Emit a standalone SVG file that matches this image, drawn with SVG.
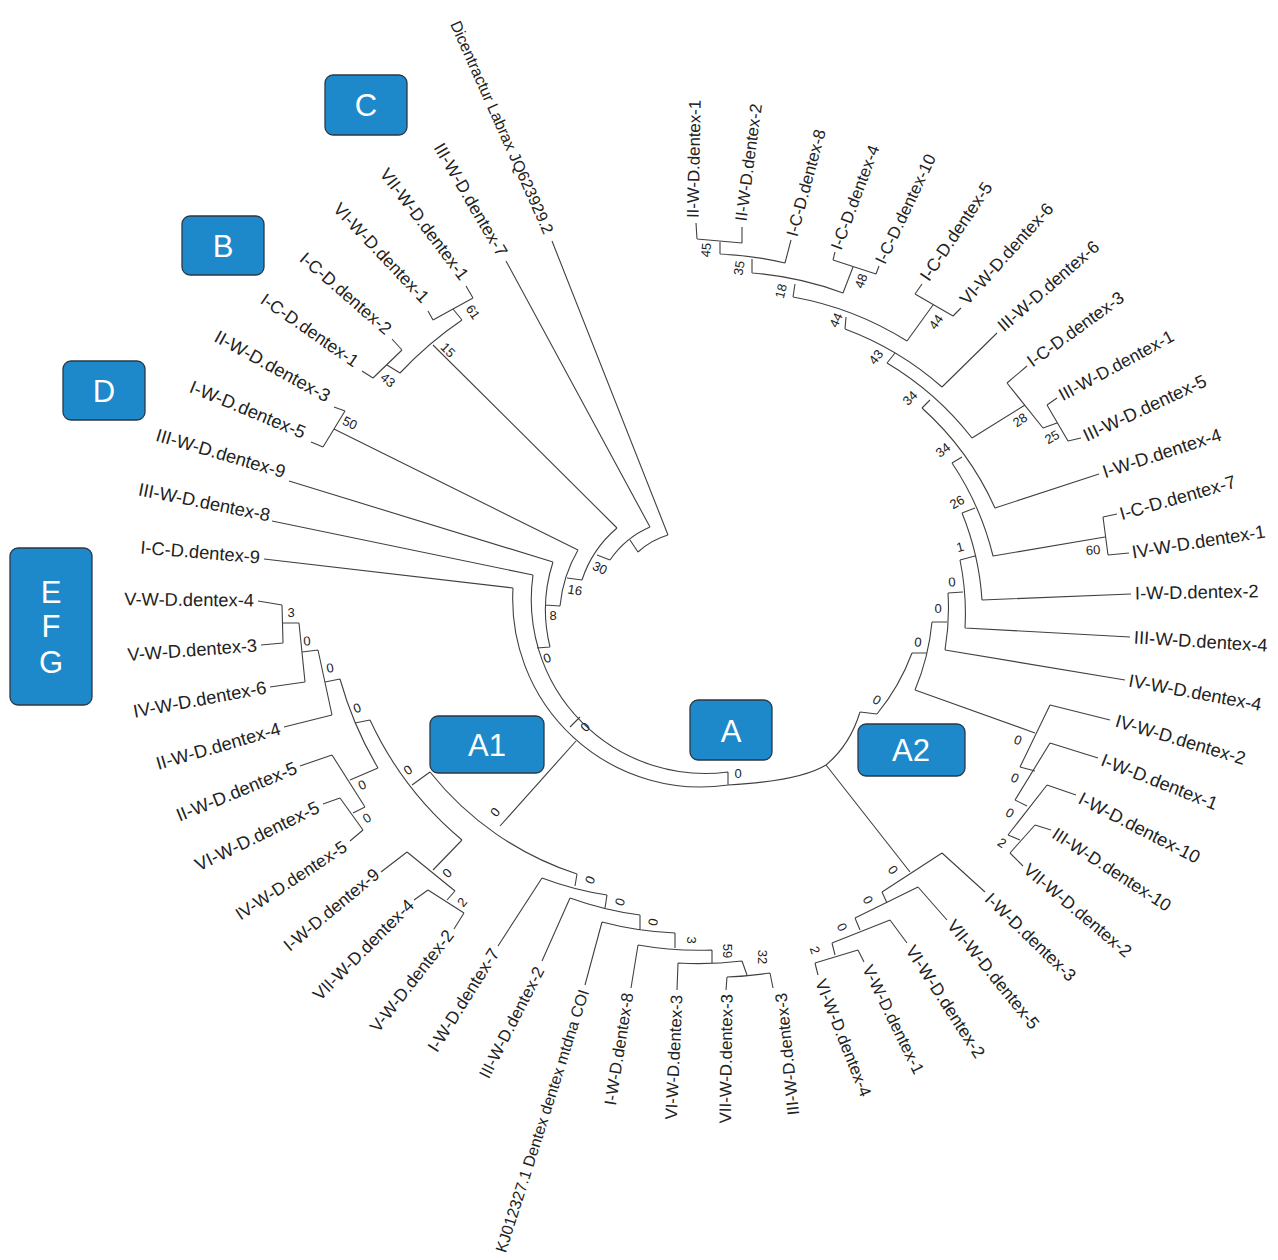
<svg xmlns="http://www.w3.org/2000/svg" width="1278" height="1260" viewBox="0 0 1278 1260">
<style>
.l{fill:none;stroke:#404040;stroke-width:1.1}
.t{font-family:"Liberation Sans",Arial,sans-serif;font-size:17.5px;fill:#222;dominant-baseline:central}
.h{font-size:18.3px}
.v{font-size:16.8px}
.s{font-size:16px}
.e{text-anchor:end}
.n{font-family:"Liberation Sans",Arial,sans-serif;font-size:13px;fill:#222;text-anchor:middle;dominant-baseline:central}
.bx rect{fill:#1D89CB;stroke:#2b3845;stroke-width:1.3}
.bx text{font-family:"Liberation Sans",Arial,sans-serif;font-size:31px;fill:#fff;text-anchor:middle;dominant-baseline:central}
</style>
<rect width="1278" height="1260" fill="#fff"/>
<g id="connectors" class="l">
<path d="M696,223L697,239 M742,227L742,243 M697,239L742,243 M720,241L720,254 M791,240L785,263 M720,254A340,340 0 0 1 785,263 M752,259L752,273 M835,252L833,260 M879,266L876,274 M833,260L876,274 M853,267L843,293 M752,273A332,332 0 0 1 843,293 M795,284L793,297 M922,284L915,294 M961,308L953,316 M915,294L953,316 M933,305L907,341 M793,297A322,322 0 0 1 907,341 M846,317L845,329 M997,333L942,387 M845,329A312,312 0 0 1 942,387 M895,353L887,363 M887,363A307,307 0 0 1 972,438"/>
<path d="M1027,366L1007,383 M1057,398L1047,405 M1081,438L1068,441 M1047,405L1068,441 M1057,423L1043,428 M1007,383L1043,428 M1025,405L972,438 M930,400L922,408 M1099,474L995,508 M922,408A299,299 0 0 1 995,508 M962,457L952,463 M1117,514L1103,517 M1129,553L1108,555 M1103,517L1108,555 M1105,537L993,556 M952,463A290,290 0 0 1 993,556 M975,508L962,513 M1131,594L982,600 M962,513A278,278 0 0 1 982,600 M975,556L960,560 M1130,637L965,628 M960,560A264,264 0 0 1 965,628 M963,592L948,593 M1125,680L945,650 M948,593A248,248 0 0 1 945,650 M947,622L932,622 M932,622A233,233 0 0 1 915,690 M927,653L912,653 M915,690L1035,733 M912,653A215,215 0 0 1 877,714 M877,714L860,712"/>
<path d="M1050,705L1020,767 M1110,720L1050,705 M1020,767L1035,771 M1050,743L1015,800 M1098,758L1050,743 M1015,800L1027,806 M1047,785L1008,835 M1076,795L1047,785 M1008,835L1020,840 M1035,825L1010,853 M1051,830L1035,825 M1023,866L1010,853"/>
<path d="M860,712Q850,745 826,765Q800,781 728,785 M826,765L910,872 M942,853L882,892 M942,853L985,892 M882,892L887,903 M918,887L855,918 M918,887L947,920 M855,918L860,930 M890,920L832,943 M890,920L907,943 M832,943L835,955 M858,950L815,963 M858,950L864,962 M815,963L818,975"/>
<path d="M728,785A188,188 0 0 1 513,588 M728,785L728,772 M728,772A174,174 0 0 1 533,575 M580,717L570,727 M537,648L550,647 M264,559L513,588 M272,521L533,575 M550,647A155,155 0 0 1 553,562 M545,605L560,606 M289,481L553,562 M560,606A137,137 0 0 1 578,550 M567,578L582,580 M334,429L578,550 M582,580A115,115 0 0 1 617,528 M597,555L610,560 M433,345L617,528 M610,560A93,93 0 0 1 650,527 M630,540L638,552 M638,552A75,75 0 0 1 668,535 M506,261L650,527 M552,241L668,535"/>
<path d="M466,286L473,298 M428,311L433,320 M433,320L473,298 M453,309L462,320 M400,373A370,370 0 0 1 462,320 M392,339L402,350 M362,371L373,378 M373,378L402,350 M387,365L400,373 M334,407L345,411 M311,442L323,447 M323,447L345,411"/>
<path d="M258,601L282,605 M261,645L283,643 M282,605L283,643 M282,623L299,623 M270,687L305,682 M299,623L305,682 M302,652L318,650 M284,727L332,715 M318,650L332,715 M325,682L340,679 M378,768A368,368 0 0 1 340,679 M355,723L370,720 M462,840A346,346 0 0 1 370,720 M412,785L430,772 M378,768L350,780 M300,766L332,755 M332,755L365,807 M365,807L353,813 M323,804L340,798 M350,841L363,830 M340,798L363,830 M462,840L433,870 M381,872L407,852 M407,852L455,891 M455,891L447,900 M414,900L428,890 M454,929L464,913 M428,890L464,913"/>
<path d="M576,741L500,826 M577,874A310,310 0 0 1 430,772 M577,874L575,886 M607,895A318,318 0 0 1 542,878 M498,946L542,878 M607,895L605,908 M640,915A326,326 0 0 1 570,898 M542,961L570,898 M640,915L640,930 M675,933A336,336 0 0 1 602,922 M585,985L602,922 M675,933L675,948 M712,950A352,352 0 0 1 638,945 M631,988L638,945 M712,950L712,963 M742,961A364,364 0 0 1 678,963 M677,990L678,963 M742,961L747,975 M770,973A378,378 0 0 1 727,977 M726,990L727,977 M773,988L770,973"/>
</g>
<g id="leaves">
<g id="leaf-01"><text class="t v" transform="translate(693,218) rotate(-89)">II-W-D.dentex-1</text></g>
<g id="leaf-02"><text class="t v" transform="translate(741,221) rotate(-82.5)">II-W-D.dentex-2</text></g>
<g id="leaf-03"><text class="t v" transform="translate(792,236) rotate(-75)">I-C-D.dentex-8</text></g>
<g id="leaf-04"><text class="t v" transform="translate(836,249) rotate(-69.5)">I-C-D.dentex-4</text></g>
<g id="leaf-05"><text class="t v" transform="translate(880,263) rotate(-64.5)">I-C-D.dentex-10</text></g>
<g id="leaf-06"><text class="t" transform="translate(924,279) rotate(-56)">I-C-D.dentex-5</text></g>
<g id="leaf-07"><text class="t" transform="translate(963,302) rotate(-48)">VI-W-D.dentex-6</text></g>
<g id="leaf-08"><text class="t" transform="translate(1000,328) rotate(-41)">III-W-D.dentex-6</text></g>
<g id="leaf-09"><text class="t" transform="translate(1029,363) rotate(-36)">I-C-D.dentex-3</text></g>
<g id="leaf-10"><text class="t" transform="translate(1060,396) rotate(-28.5)">III-W-D.dentex-1</text></g>
<g id="leaf-11"><text class="t h" transform="translate(1084,436) rotate(-25)">III-W-D.dentex-5</text></g>
<g id="leaf-12"><text class="t h" transform="translate(1103,472) rotate(-18)">I-W-D.dentex-4</text></g>
<g id="leaf-13"><text class="t h" transform="translate(1120,514) rotate(-16)">I-C-D.dentex-7</text></g>
<g id="leaf-14"><text class="t h" transform="translate(1132,552) rotate(-9)">IV-W-D.dentex-1</text></g>
<g id="leaf-15"><text class="t h" transform="translate(1135,593) rotate(-1)">I-W-D.dentex-2</text></g>
<g id="leaf-16"><text class="t h" transform="translate(1134,637) rotate(3.5)">III-W-D.dentex-4</text></g>
<g id="leaf-17"><text class="t h" transform="translate(1129,680) rotate(10.5)">IV-W-D.dentex-4</text></g>
<g id="leaf-18"><text class="t h" transform="translate(1116,720) rotate(16.7)">IV-W-D.dentex-2</text></g>
<g id="leaf-19"><text class="t h" transform="translate(1102,759) rotate(21.4)">I-W-D.dentex-1</text></g>
<g id="leaf-20"><text class="t h" transform="translate(1080,797) rotate(27.2)">I-W-D.dentex-10</text></g>
<g id="leaf-21"><text class="t" transform="translate(1054,832) rotate(33)">III-W-D.dentex-10</text></g>
<g id="leaf-22"><text class="t" transform="translate(1026,867) rotate(40)">VII-W-D.dentex-2</text></g>
<g id="leaf-23"><text class="t" transform="translate(988,896) rotate(44)">I-W-D.dentex-3</text></g>
<g id="leaf-24"><text class="t" transform="translate(951,922) rotate(51)">VII-W-D.dentex-5</text></g>
<g id="leaf-25"><text class="t" transform="translate(910,947) rotate(57)">VI-W-D.dentex-2</text></g>
<g id="leaf-26"><text class="t v" transform="translate(867,966) rotate(64)">V-W-D.dentex-1</text></g>
<g id="leaf-27"><text class="t v" transform="translate(820,980) rotate(68.3)">VI-W-D.dentex-4</text></g>
<g id="leaf-28"><text class="t v e" transform="translate(781,993) rotate(-96)">III-W-D.dentex-3</text></g>
<g id="leaf-29"><text class="t v e" transform="translate(727,994) rotate(-89.3)">VII-W-D.dentex-3</text></g>
<g id="leaf-30"><text class="t v e" transform="translate(677,995) rotate(-87.4)">VI-W-D.dentex-3</text></g>
<g id="leaf-31"><text class="t v e" transform="translate(628,993) rotate(-81)">I-W-D.dentex-8</text></g>
<g id="leaf-32"><text class="t s e" transform="translate(584,990) rotate(-72.3)">KJ012327.1 Dentex dentex mtdna COI</text></g>
<g id="leaf-33"><text class="t v e" transform="translate(540,968) rotate(-62.8)">III-W-D.dentex-2</text></g>
<g id="leaf-34"><text class="t e" transform="translate(495,950) rotate(-57.8)">I-W-D.dentex-7</text></g>
<g id="leaf-35"><text class="t e" transform="translate(450,932) rotate(-52)">V-W-D.dentex-2</text></g>
<g id="leaf-36"><text class="t e" transform="translate(411,902) rotate(-45)">VII-W-D.dentex-4</text></g>
<g id="leaf-37"><text class="t e" transform="translate(377,872) rotate(-39.6)">I-W-D.dentex-9</text></g>
<g id="leaf-38"><text class="t e" transform="translate(345,845) rotate(-33.3)">IV-W-D.dentex-5</text></g>
<g id="leaf-39"><text class="t h e" transform="translate(318,806) rotate(-26)">VI-W-D.dentex-5</text></g>
<g id="leaf-40"><text class="t h e" transform="translate(296,767) rotate(-22.3)">II-W-D.dentex-5</text></g>
<g id="leaf-41"><text class="t h e" transform="translate(280,728) rotate(-16.1)">II-W-D.dentex-4</text></g>
<g id="leaf-42"><text class="t h e" transform="translate(266,687) rotate(-10.4)">IV-W-D.dentex-6</text></g>
<g id="leaf-43"><text class="t h e" transform="translate(257,645) rotate(-4.2)">V-W-D.dentex-3</text></g>
<g id="leaf-44"><text class="t h e" transform="translate(254,600) rotate(0.5)">V-W-D.dentex-4</text></g>
<g id="leaf-45"><text class="t h e" transform="translate(260,557) rotate(4.8)">I-C-D.dentex-9</text></g>
<g id="leaf-46"><text class="t h e" transform="translate(270,515) rotate(11.3)">III-W-D.dentex-8</text></g>
<g id="leaf-47"><text class="t h e" transform="translate(285,472) rotate(16.4)">III-W-D.dentex-9</text></g>
<g id="leaf-48"><text class="t h e" transform="translate(305,433) rotate(22.5)">I-W-D.dentex-5</text></g>
<g id="leaf-49"><text class="t h e" transform="translate(329,397) rotate(28.8)">II-W-D.dentex-3</text></g>
<g id="leaf-50"><text class="t e" transform="translate(357,363) rotate(34.8)">I-C-D.dentex-1</text></g>
<g id="leaf-51"><text class="t e" transform="translate(389,331) rotate(41)">I-C-D.dentex-2</text></g>
<g id="leaf-52"><text class="t e" transform="translate(426,300) rotate(46.5)">VI-W-D.dentex-1</text></g>
<g id="leaf-53"><text class="t e" transform="translate(465,278) rotate(53)">VII-W-D.dentex-1</text></g>
<g id="leaf-54"><text class="t e" transform="translate(503,255) rotate(59.7)">III-W-D.dentex-7</text></g>
<g id="leaf-55"><text class="t s e" transform="translate(549,233) rotate(66)">Dicentractur Labrax JQ623929.2</text></g>
</g>
<g id="bootstrap">
<text class="n" transform="translate(706,250) rotate(-85)">45</text>
<text class="n" transform="translate(739,268) rotate(-80)">35</text>
<text class="n" transform="translate(861,281) rotate(-70)">48</text>
<text class="n" transform="translate(781,291) rotate(-75)">18</text>
<text class="n" transform="translate(836,320) rotate(-65)">44</text>
<text class="n" transform="translate(936,322) rotate(-55)">44</text>
<text class="n" transform="translate(876,357) rotate(-52)">43</text>
<text class="n" transform="translate(910,398) rotate(-45)">34</text>
<text class="n" transform="translate(1020,420) rotate(-35)">28</text>
<text class="n" transform="translate(1052,437) rotate(-30)">25</text>
<text class="n" transform="translate(943,450) rotate(-38)">34</text>
<text class="n" transform="translate(1093,550) rotate(-5)">60</text>
<text class="n" transform="translate(957,502) rotate(-30)">26</text>
<text class="n" transform="translate(960,547) rotate(-15)">1</text>
<text class="n" transform="translate(952,582) rotate(-5)">0</text>
<text class="n" transform="translate(938,608)">0</text>
<text class="n" transform="translate(918,642) rotate(5)">0</text>
<text class="n" transform="translate(877,700) rotate(30)">0</text>
<text class="n" transform="translate(1018,740) rotate(20)">0</text>
<text class="n" transform="translate(1015,778) rotate(25)">0</text>
<text class="n" transform="translate(1010,813) rotate(30)">0</text>
<text class="n" transform="translate(1002,843) rotate(35)">2</text>
<text class="n" transform="translate(893,870) rotate(55)">0</text>
<text class="n" transform="translate(868,900) rotate(60)">0</text>
<text class="n" transform="translate(842,927) rotate(65)">0</text>
<text class="n" transform="translate(815,950) rotate(70)">2</text>
<text class="n" transform="translate(738,773)">0</text>
<text class="n" transform="translate(762,957) rotate(90)">32</text>
<text class="n" transform="translate(727,951) rotate(90)">59</text>
<text class="n" transform="translate(691,940) rotate(90)">3</text>
<text class="n" transform="translate(653,922) rotate(100)">0</text>
<text class="n" transform="translate(620,902) rotate(110)">0</text>
<text class="n" transform="translate(590,880) rotate(115)">0</text>
<text class="n" transform="translate(495,812) rotate(-50)">0</text>
<text class="n" transform="translate(447,873) rotate(-45)">0</text>
<text class="n" transform="translate(462,902) rotate(-50)">2</text>
<text class="n" transform="translate(408,770) rotate(-35)">0</text>
<text class="n" transform="translate(367,818) rotate(-30)">0</text>
<text class="n" transform="translate(362,785) rotate(-25)">0</text>
<text class="n" transform="translate(357,708) rotate(-20)">0</text>
<text class="n" transform="translate(330,668) rotate(-10)">0</text>
<text class="n" transform="translate(307,641) rotate(-5)">0</text>
<text class="n" transform="translate(291,612)">3</text>
<text class="n" transform="translate(585,727) rotate(-45)">0</text>
<text class="n" transform="translate(547,658) rotate(-20)">0</text>
<text class="n" transform="translate(553,615)">8</text>
<text class="n" transform="translate(575,590) rotate(10)">16</text>
<text class="n" transform="translate(600,568) rotate(25)">30</text>
<text class="n" transform="translate(350,423) rotate(25)">50</text>
<text class="n" transform="translate(388,380) rotate(40)">43</text>
<text class="n" transform="translate(448,350) rotate(45)">15</text>
<text class="n" transform="translate(473,312) rotate(55)">61</text>
</g>
<g id="box-C" class="bx"><rect x="325" y="75" width="82" height="60" rx="8"/><text x="366" y="105">C</text></g>
<g id="box-B" class="bx"><rect x="182" y="216" width="82" height="59" rx="8"/><text x="223" y="246">B</text></g>
<g id="box-D" class="bx"><rect x="63" y="361" width="82" height="59" rx="8"/><text x="104" y="391">D</text></g>
<g id="box-EFG" class="bx"><rect x="10" y="548" width="82" height="157" rx="8"/><text x="51" y="592">E</text><text x="51" y="626">F</text><text x="51" y="662">G</text></g>
<g id="box-A1" class="bx"><rect x="430" y="716" width="114" height="57" rx="8"/><text x="487" y="745">A1</text></g>
<g id="box-A" class="bx"><rect x="690" y="700" width="82" height="60" rx="8"/><text x="731" y="731">A</text></g>
<g id="box-A2" class="bx"><rect x="858" y="724" width="107" height="52" rx="8"/><text x="911" y="750">A2</text></g>
</svg>
